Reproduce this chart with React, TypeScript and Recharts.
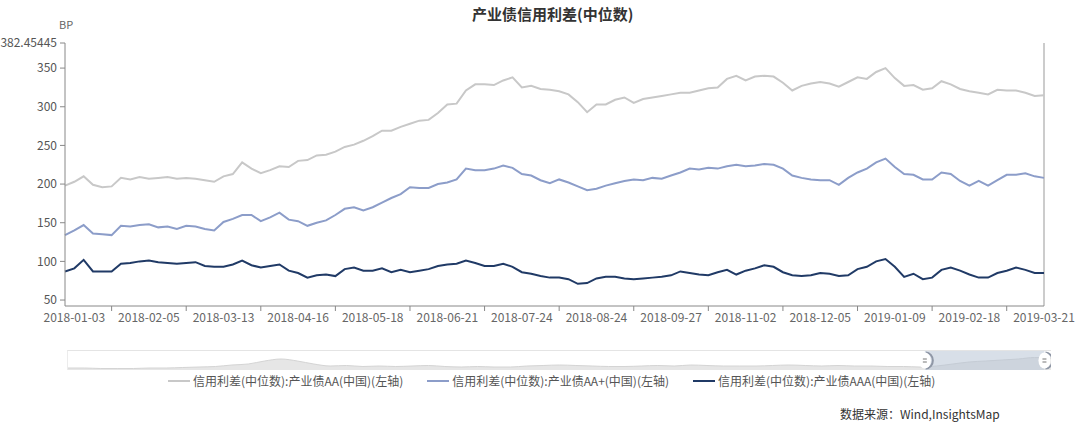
import React from "react";
import {
  LineChart,
  Line,
  XAxis,
  YAxis,
  ReferenceLine,
  AreaChart,
  Area,
  ReferenceArea,
  ReferenceDot,
} from "recharts";

// tick labels on the date axis, one every 8 points
const dateLabels = [
  "2018-01-03",
  "2018-02-05",
  "2018-03-13",
  "2018-04-16",
  "2018-05-18",
  "2018-06-21",
  "2018-07-24",
  "2018-08-24",
  "2018-09-27",
  "2018-11-02",
  "2018-12-05",
  "2019-01-09",
  "2019-02-18",
  "2019-03-21",
];

const spreadAA = [
  198, 203, 210, 199, 196, 197, 208, 206, 209, 207, 208, 209, 207, 208, 207, 205, 203, 210, 213, 228,
  220, 214, 218, 223, 222, 230, 231, 237, 238, 242, 248, 251, 256, 262, 269, 269, 274, 278, 282, 283,
  292, 303, 304, 321, 329, 329, 328, 334, 338, 325, 327, 323, 322, 320, 316, 306, 293, 303, 303, 309,
  312, 305, 310, 312, 314, 316, 318, 318, 321, 324, 325, 336, 340, 334, 339, 340, 339, 331, 321, 327,
  330, 332, 330, 326, 332, 338, 336, 345, 350, 337, 327, 328, 322, 324, 333, 329, 323, 320, 318, 316,
  322, 321, 321, 318, 314, 315,
];

const spreadAAPlus = [
  134, 140, 147, 136, 135, 134, 146, 145, 147, 148, 144, 145, 142, 146, 145, 142, 140, 151, 155, 160,
  160, 152, 157, 163, 154, 152, 146, 150, 153, 160, 168, 170, 166, 170, 176, 182, 187, 196, 195, 195,
  200, 202, 206, 220, 218, 218, 220, 224, 221, 213, 211, 205, 201, 206, 202, 197, 192, 194, 198, 201,
  204, 206, 205, 208, 207, 211, 215, 220, 219, 221, 220, 223, 225, 223, 224, 226, 225, 220, 211, 208,
  206, 205, 205, 199, 208, 215, 220, 228, 233, 222, 213, 212, 206, 206, 215, 213, 204, 198, 204, 198,
  205, 212, 212, 214, 210, 208,
];

const spreadAAA = [
  87, 91, 102, 87, 87, 87, 97, 98, 100, 101, 99, 98, 97, 98, 99, 94, 93, 93, 96, 101,
  95, 92, 94, 96, 88, 85, 79, 82, 83, 81, 90, 92, 88, 88, 91, 86, 89, 86, 88, 90,
  94, 96, 97, 101, 98, 94, 94, 97, 93, 86, 84, 81, 79, 79, 77, 71, 72, 78, 80, 80,
  78, 77, 78, 79, 80, 82, 87, 85, 83, 82, 86, 89, 83, 88, 91, 95, 93, 86, 82, 81,
  82, 85, 84, 81, 82, 90, 93, 100, 103, 93, 80, 84, 77, 79, 89, 92, 88, 83, 79, 79,
  85, 88, 92, 89, 85, 85,
];

const seriesNames = [
  "信用利差(中位数):产业债AA(中国)(左轴)",
  "信用利差(中位数):产业债AA+(中国)(左轴)",
  "信用利差(中位数):产业债AAA(中国)(左轴)",
];
const seriesColors = ["#c8c8c8", "#8c9dc9", "#203a66"];

const yTicks = [50, 100, 150, 200, 250, 300, 350, 382.45445];
const yDomain = [42.3, 382.45445];

// overview strip under the chart (longer history, drawn small)
const sliderHistory = [
  2, 2, 1.5, 1.5, 1.5, 2, 2, 2.5, 3, 3.5, 5, 6, 9, 11, 9, 6, 4, 4.5, 3.5, 4,
  3.5, 4, 4.5, 3.5, 3, 3.5, 3, 3, 4, 4.5, 5, 4.5, 4, 3.5, 3.5, 4, 4.5, 4, 5, 4.5,
  4, 4, 4, 4.5, 5, 4.5, 4, 4.5, 4, 4, 3.5, 3.5, 3, 4, 6, 8, 9, 10, 11, 12.5,
  12,
];
const sliderWindow = [52.3, 59.6];

const STEP = 8;
const data = spreadAA.map((v, i) => ({
  i,
  aa: v,
  aap: spreadAAPlus[i],
  aaa: spreadAAA[i],
}));
const xTicks = Array.from({ length: (spreadAA.length - 2) / (STEP / 2) + 1 }, (_, k) => 1 + k * (STEP / 2));
const sliderData = sliderHistory.map((h, j) => ({ j, h }));

const FONT = "'Noto Sans CJK SC', 'Noto Sans', sans-serif";

function DateTick(props: any) {
  const { x, y, payload } = props;
  const k = (payload.value - 1) / STEP;
  if (Number.isInteger(k)) {
    return (
      <text x={x} y={y - 1} dy="0.71em" textAnchor="middle" fill="#666" fontSize={12} fontFamily={FONT}>
        {dateLabels[k]}
      </text>
    );
  }
  return <line x1={x} x2={x} y1={y - 8} y2={y - 3} stroke="#888" />;
}

function Handle(props: any) {
  const { cx, cy } = props;
  return (
    <g>
      <path
        d={`M${cx + 1},${cy - 8} A7,8 0 0 1 ${cx + 1},${cy + 8}`}
        fill="none"
        stroke="#8f97a6"
        strokeWidth={2}
      />
      <ellipse cx={cx} cy={cy} rx={6} ry={8} fill="#fff" />
      <line x1={cx - 2} x2={cx + 2} y1={cy - 1.5} y2={cy - 1.5} stroke="#777" />
      <line x1={cx - 2} x2={cx + 2} y1={cy + 1.5} y2={cy + 1.5} stroke="#777" />
    </g>
  );
}

export default function App() {
  return (
    <div
      style={{
        position: "absolute",
        left: 0,
        top: 0,
        width: 1080,
        height: 424,
        background: "#fff",
        fontFamily: FONT,
        overflow: "hidden",
      }}
    >
      <div
        style={{
          position: "absolute",
          top: 3,
          left: 472,
          fontSize: 15,
          fontWeight: 700,
          color: "#333",
          whiteSpace: "nowrap",
        }}
      >
        产业债信用利差(中位数)
      </div>
      <div style={{ position: "absolute", top: 16, left: 59, fontSize: 11, color: "#666" }}>BP</div>

      <div style={{ position: "absolute", left: 0, top: 0 }}>
        <LineChart width={1080} height={330} data={data} margin={{ top: 43, right: 36, bottom: 0, left: 0 }}>
          <XAxis
            dataKey="i"
            type="number"
            domain={[0, spreadAA.length - 1]}
            ticks={xTicks}
            interval={0}
            tick={<DateTick />}
            tickLine={false}
            axisLine={{ stroke: "#888" }}
            height={24}
          />
          <YAxis
            type="number"
            domain={yDomain}
            ticks={yTicks}
            interval={0}
            allowDataOverflow
            width={65}
            tickSize={5}
            tickMargin={3}
            tick={{ fill: "#555", fontSize: 12, fontFamily: FONT }}
            tickLine={{ stroke: "#888" }}
            axisLine={{ stroke: "#888" }}
            tickFormatter={(v) => String(v)}
          />
          <ReferenceLine x={spreadAA.length - 1} stroke="#999" />
          <Line
            dataKey="aa"
            name={seriesNames[0]}
            stroke={seriesColors[0]}
            strokeWidth={2}
            dot={false}
            isAnimationActive={false}
          />
          <Line
            dataKey="aap"
            name={seriesNames[1]}
            stroke={seriesColors[1]}
            strokeWidth={2}
            dot={false}
            isAnimationActive={false}
          />
          <Line
            dataKey="aaa"
            name={seriesNames[2]}
            stroke={seriesColors[2]}
            strokeWidth={2}
            dot={false}
            isAnimationActive={false}
          />
        </LineChart>
      </div>

      <div
        style={{
          position: "absolute",
          left: 67,
          top: 350,
          width: 983,
          height: 19,
          borderTop: "1px solid #e4e4e4",
          borderLeft: "1px solid #ececec",
        }}
      >
        <AreaChart width={983} height={19} data={sliderData} margin={{ top: 0, right: 0, bottom: 0, left: 0 }}>
          <XAxis dataKey="j" type="number" domain={[0, sliderHistory.length - 1]} hide />
          <YAxis type="number" domain={[0, 19]} hide />
          <Area
            dataKey="h"
            type="monotone"
            stroke="#d4d4d4"
            fill="#e6e6e6"
            fillOpacity={1}
            isAnimationActive={false}
          />
          <ReferenceArea
            x1={sliderWindow[0]}
            x2={sliderWindow[1]}
            y1={0}
            y2={19}
            fill="#b8c4d6"
            fillOpacity={0.55}
            stroke="none"
          />
          <ReferenceDot x={sliderWindow[0]} y={9.5} shape={<Handle />} />
          <ReferenceDot x={sliderWindow[1]} y={9.5} shape={<Handle />} />
        </AreaChart>
      </div>

      <div
        style={{
          position: "absolute",
          left: 168,
          top: 372,
          display: "flex",
          alignItems: "center",
          gap: 24,
          fontSize: 12,
          color: "#555",
          whiteSpace: "nowrap",
        }}
      >
        {seriesNames.map((name, idx) => (
          <div key={name} style={{ display: "flex", alignItems: "center" }}>
            <span
              style={{
                display: "inline-block",
                width: 22,
                height: 2,
                background: seriesColors[idx],
                marginRight: 3,
              }}
            />
            <span>{name}</span>
          </div>
        ))}
      </div>

      <div style={{ position: "absolute", left: 840, top: 405, fontSize: 12, color: "#333", whiteSpace: "nowrap" }}>
        数据来源：Wind,InsightsMap
      </div>
    </div>
  );
}
